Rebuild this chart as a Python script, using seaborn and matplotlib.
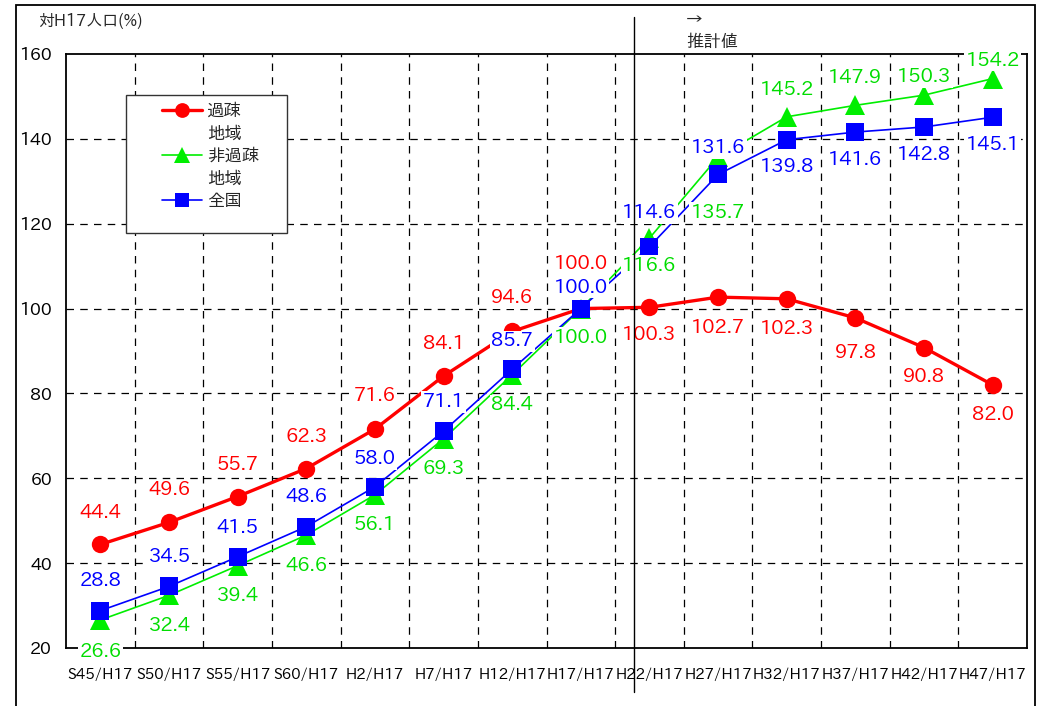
import numpy as np
import pandas as pd
import matplotlib
matplotlib.use("Agg")
import matplotlib.pyplot as plt
from matplotlib import font_manager
from matplotlib.lines import Line2D
from matplotlib.patches import Rectangle
import seaborn as sns

# ---- data -------------------------------------------------------------
periods = ["S45/H17", "S50/H17", "S55/H17", "S60/H17", "H2/H17", "H7/H17",
           "H12/H17", "H17/H17", "H22/H17", "H27/H17", "H32/H17", "H37/H17",
           "H42/H17", "H47/H17"]
kaso = [44.4, 49.6, 55.7, 62.3, 71.6, 84.1, 94.6, 100.0, 100.3, 102.7,
        102.3, 97.8, 90.8, 82.0]
hikaso = [26.6, 32.4, 39.4, 46.6, 56.1, 69.3, 84.4, 100.0, 116.6, 135.7,
          145.2, 147.9, 150.3, 154.2]
zenkoku = [28.8, 34.5, 41.5, 48.6, 58.0, 71.1, 85.7, 100.0, 114.6, 131.6,
           139.8, 141.6, 142.8, 145.1]
series_names = ["過疎\n地域", "非過疎\n地域", "全国"]
y_ticks = [20, 40, 60, 80, 100, 120, 140, 160]

# ---- fonts ------------------------------------------------------------
sns.set_theme(style="white")
available = {f.name for f in font_manager.fontManager.ttflist}
prefs = ["IPAPGothic", "BIZ UDPGothic", "Noto Sans CJK JP"]
main_font = next(f for f in prefs if f in available)
plt.rcParams["font.family"] = [main_font, "Noto Sans CJK JP", "DejaVu Sans"]

x = np.arange(len(periods))
df = pd.DataFrame({"x": np.tile(x, 3),
                   "value": kaso + hikaso + zenkoku,
                   "series": np.repeat(series_names, len(periods))})

W, H = 1044, 706
fig = plt.figure(figsize=(W / 100, H / 100), dpi=100)
ax = fig.add_axes([66 / W, 1 - 648 / H, (1027 - 66) / W, (648 - 54) / H])

styles = {
    series_names[0]: dict(color="#ff0000", marker="o", lw=2.4, ms=12.5),
    series_names[1]: dict(color="#00ee00", marker="^", lw=1.2, ms=14),
    series_names[2]: dict(color="#0000ff", marker="s", lw=1.2, ms=12.5),
}
for i, name in enumerate(series_names):
    st = styles[name]
    sns.lineplot(data=df[df["series"] == name], x="x", y="value", ax=ax,
                 color=st["color"], marker=st["marker"], linewidth=st["lw"],
                 markersize=st["ms"], markeredgewidth=0, zorder=3 + i,
                 legend=False)

ax.set_xlim(-0.5, len(periods) - 0.5)
ax.set_ylim(20, 160)
ax.set_xlabel("")
ax.set_ylabel("")

# grid: dashed horizontal at the y ticks, dashed vertical between categories
ax.set_yticks(y_ticks)
ax.set_yticklabels([str(v) for v in y_ticks], fontsize=12.5, color="black")
ax.set_xticks(x)
ax.set_xticklabels(periods, fontsize=10.8, color="black")
ax.tick_params(axis="both", which="both", length=0)
ax.tick_params(axis="x", pad=14)
ax.tick_params(axis="y", pad=10)
for v in y_ticks[1:-1]:
    ax.axhline(v, color="black", lw=0.9, ls=(0, (6, 5)), zorder=1)
for v in x[:-1] + 0.5:
    ax.axvline(v, color="black", lw=0.9, ls=(0, (6, 5)), zorder=1)
for sp in ax.spines.values():
    sp.set_color("black")
    sp.set_linewidth(1.3)
    sp.set_visible(True)

# value labels on white boxes (side: +1 above the marker, -1 below; distance in pt)
kaso_side = [1] * 8 + [-1] * 6
hikaso_side = [-1] * 10 + [1] * 4
zenkoku_side = [1] * 10 + [-1] * 4
kaso_off = [23, 23, 23, 23, 24, 23, 24, 32, 20, 22, 22, 25, 21, 22]
hikaso_off = [23, 22, 22, 22, 22, 22, 22, 21, 20, 40, 19, 19.5, 13, 13]
zenkoku_off = [21, 21, 21, 21, 20, 21, 20, 15, 24, 19, 20, 20, 20, 20]


def annotate(values, sides, offsets, color):
    for xi, v, s, off in zip(x, values, sides, offsets):
        ax.annotate(f"{v:.1f}", (xi, v), xytext=(0, s * off),
                    textcoords="offset points", ha="center", va="center",
                    fontsize=14, color=color, zorder=10,
                    bbox=dict(boxstyle="square,pad=0.08", fc="white", ec="none"))


annotate(kaso, kaso_side, kaso_off, "#ff0000")
annotate(hikaso, hikaso_side, hikaso_off, "#00dd00")
annotate(zenkoku, zenkoku_side, zenkoku_off, "#0000ff")

# legend: one row per text line, the marker sits on the first line
handles, labels = [], []
for n in series_names:
    st = styles[n]
    for k, part in enumerate(n.split("\n")):
        if k == 0:
            handles.append(Line2D([], [], color=st["color"], marker=st["marker"],
                                  lw=st["lw"], ms=st["ms"] * 0.85, mew=0))
        else:
            handles.append(Line2D([], [], lw=0, marker=None, color="none"))
        labels.append(part)
ax.add_patch(Rectangle((60 / 961, 1 - (233 - 54) / 594), (287 - 126) / 961,
                       (233 - 95) / 594, transform=ax.transAxes, fc="white",
                       ec="#333333", lw=1.0, zorder=11))
leg = ax.legend(handles, labels, loc="upper left",
                bbox_to_anchor=((162 - 66) / 961, 1 - (103 - 54) / 594),
                fontsize=12.5, frameon=False, handlelength=2.3,
                borderpad=0, labelspacing=0.37, borderaxespad=0,
                handletextpad=0.3)
leg.set_zorder(12)

# axis caption, projection note and divider
fig.text(38 / W, 1 - 21 / H, "対H17人口(%)", fontsize=11.5, va="center", ha="left")
fig.text(686 / W, 1 - 19 / H, "→", fontsize=12, va="center", ha="left")
fig.text(686 / W, 1 - 42 / H, "推計値", fontsize=12.5, va="center", ha="left")
fig.add_artist(Line2D([634 / W, 634 / W], [1 - 17 / H, 1 - 692 / H],
                      color="black", lw=1.0, transform=fig.transFigure))

# outer frame
fig.add_artist(Rectangle((16 / W, -0.05), (1035 - 16) / W, 1 - 5 / H + 0.05,
                         transform=fig.transFigure, fill=False, ec="black",
                         lw=1.3))

fig.savefig("out.png", dpi=100, facecolor="white")
